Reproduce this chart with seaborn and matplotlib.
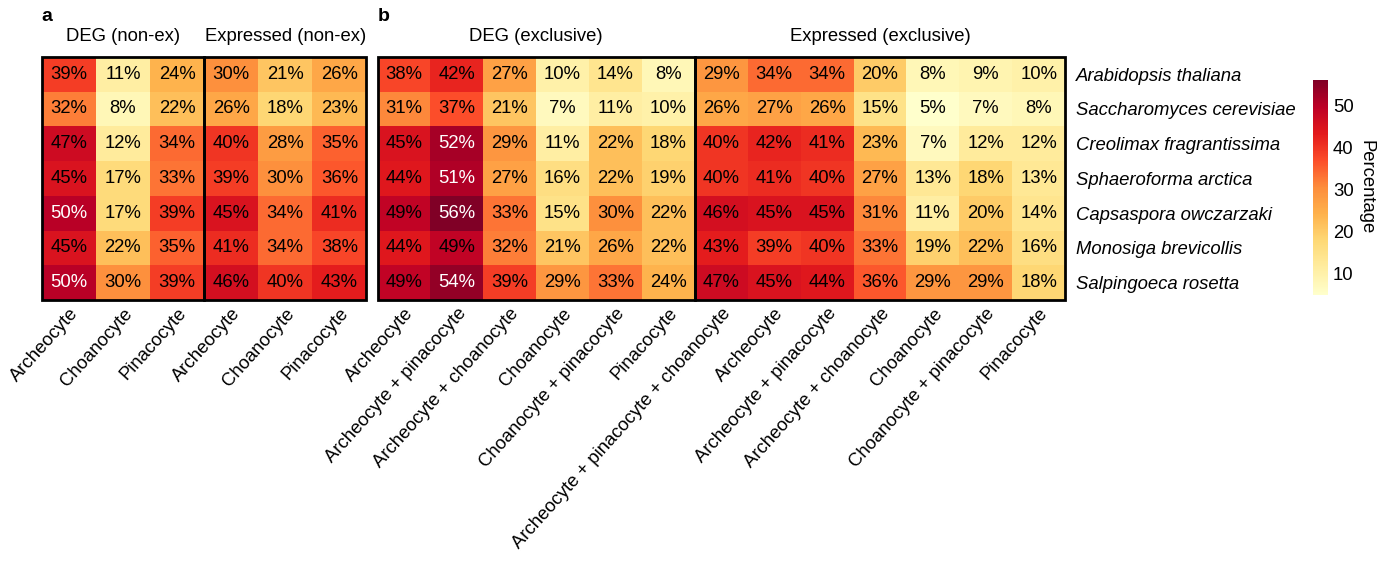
import numpy as np
import pandas as pd
import seaborn as sns
import matplotlib.pyplot as plt
from matplotlib.patches import Rectangle

species = ['Arabidopsis thaliana', 'Saccharomyces cerevisiae', 'Creolimax fragrantissima',
           'Sphaeroforma arctica', 'Capsaspora owczarzaki', 'Monosiga brevicollis',
           'Salpingoeca rosetta']

cols_nonex = ['Archeocyte', 'Choanocyte', 'Pinacocyte']
cols_deg_ex = ['Archeocyte', 'Archeocyte + pinacocyte', 'Archeocyte + choanocyte',
               'Choanocyte', 'Choanocyte + pinacocyte', 'Pinacocyte']
cols_expr_ex = ['Archeocyte + pinacocyte + choanocyte', 'Archeocyte', 'Archeocyte + pinacocyte',
                'Archeocyte + choanocyte', 'Choanocyte', 'Choanocyte + pinacocyte', 'Pinacocyte']

deg_nonex = [[39, 11, 24], [32, 8, 22], [47, 12, 34], [45, 17, 33],
             [50, 17, 39], [45, 22, 35], [50, 30, 39]]
expr_nonex = [[30, 21, 26], [26, 18, 23], [40, 28, 35], [39, 30, 36],
              [45, 34, 41], [41, 34, 38], [46, 40, 43]]
deg_ex = [[38, 42, 27, 10, 14, 8], [31, 37, 21, 7, 11, 10], [45, 52, 29, 11, 22, 18],
          [44, 51, 27, 16, 22, 19], [49, 56, 33, 15, 30, 22], [44, 49, 32, 21, 26, 22],
          [49, 54, 39, 29, 33, 24]]
expr_ex = [[29, 34, 34, 20, 8, 9, 10], [26, 27, 26, 15, 5, 7, 8], [40, 42, 41, 23, 7, 12, 12],
           [40, 41, 40, 27, 13, 18, 13], [46, 45, 45, 31, 11, 20, 14], [43, 39, 40, 33, 19, 22, 16],
           [47, 45, 44, 36, 29, 29, 18]]
cbar_ticks = [10, 20, 30, 40, 50]

plt.rcParams['font.family'] = ['Liberation Sans', 'DejaVu Sans']
fs = 13.3

data_a = np.hstack([deg_nonex, expr_nonex])
data_b = np.hstack([deg_ex, expr_ex])
vmin = min(data_a.min(), data_b.min())
vmax = max(data_a.max(), data_b.max())

fig = plt.figure(figsize=(13.93, 5.63), dpi=100)
ax_a = fig.add_axes([0.030, 0.467, 0.233, 0.432])
ax_b = fig.add_axes([0.271, 0.467, 0.4936, 0.432])
cax = fig.add_axes([0.9426, 0.476, 0.0107, 0.382])


def draw(ax, data, xlabels, groups, titles, cbar):
    df = pd.DataFrame(data, index=species)
    labels = np.vectorize(lambda v: f'{v}%')(data)
    sns.heatmap(df, ax=ax, cmap='YlOrRd', vmin=vmin, vmax=vmax, annot=labels, fmt='',
                annot_kws={'fontsize': fs}, cbar=cbar, cbar_ax=cax if cbar else None,
                cbar_kws={'ticks': cbar_ticks} if cbar else None,
                xticklabels=xlabels, yticklabels=species)
    # white text on the darkest cells
    for t, v in zip(ax.texts, data.flatten()):
        t.set_color('white' if v >= 50 else 'black')
    start = 0
    for n, title in zip(groups, titles):
        ax.add_patch(Rectangle((start, 0), n, data.shape[0], fill=False,
                               edgecolor='black', lw=2, clip_on=False))
        ax.text(start + n / 2, -0.35, title, ha='center', va='bottom', fontsize=fs)
        start += n
    ax.set_xticklabels(xlabels, rotation=48, ha='right', rotation_mode='anchor', fontsize=fs)
    ax.tick_params(length=0)
    ax.set_xlabel('')
    ax.set_ylabel('')


draw(ax_a, data_a, cols_nonex + cols_nonex, [3, 3], ['DEG (non-ex)', 'Expressed (non-ex)'], False)
ax_a.set_yticks([])

draw(ax_b, data_b, cols_deg_ex + cols_expr_ex, [6, 7], ['DEG (exclusive)', 'Expressed (exclusive)'], True)
ax_b.yaxis.tick_right()
ax_b.set_yticklabels(species, rotation=0, fontstyle='italic', fontsize=fs)
ax_b.tick_params(axis='y', pad=8, length=0)

cbar = ax_b.collections[0].colorbar
cbar.outline.set_visible(False)
cbar.set_ticks(cbar_ticks)
cax.tick_params(labelsize=fs, length=0)
cax.set_ylabel('Percentage', rotation=270, fontsize=fs, labelpad=15)

fig.text(0.030, 0.97, 'a', fontsize=14, fontweight='bold', va='center')
fig.text(0.271, 0.97, 'b', fontsize=14, fontweight='bold', va='center')

plt.savefig('out.png', dpi=100)
